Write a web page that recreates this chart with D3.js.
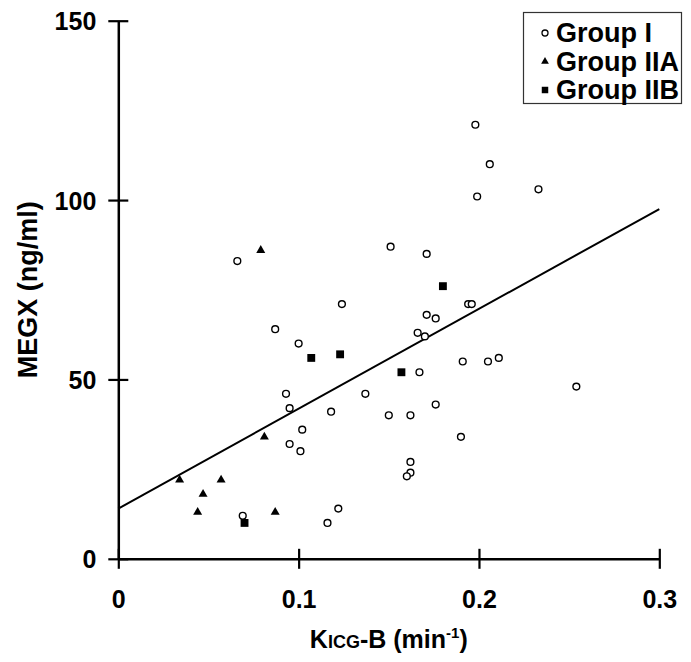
<!DOCTYPE html>
<html>
<head>
<meta charset="utf-8">
<script src="https://cdn.jsdelivr.net/npm/d3@7"></script>
<style>
  html, body { margin: 0; padding: 0; background: #fff; }
  svg { display: block; }
  text { font-family: "Liberation Sans", Arial, sans-serif; font-weight: bold; fill: #000; }
</style>
</head>
<body>
<svg id="chart" width="691" height="662"></svg>
<script>
// MEGX concentration against KICG-B clearance, three patient groups

// Group I (open circles): [KICG-B, MEGX]
const groupI = [
  [0.066, 83], [0.087, 64], [0.100, 60], [0.124, 71], [0.093, 46],
  [0.095, 42], [0.102, 36], [0.095, 32], [0.101, 30], [0.118, 41],
  [0.069, 12], [0.116, 10], [0.122, 14], [0.137, 46], [0.151, 87],
  [0.150, 40], [0.162, 40], [0.162, 27], [0.162, 24], [0.160, 23],
  [0.171, 85], [0.171, 68], [0.176, 67], [0.166, 63], [0.170, 62],
  [0.167, 52], [0.176, 43], [0.190, 34], [0.191, 55], [0.194, 71],
  [0.196, 71], [0.198, 121], [0.199, 101], [0.206, 110], [0.205, 55],
  [0.211, 56], [0.233, 103], [0.254, 48]
];

// Group IIA (filled triangles)
const groupIIA = [
  [0.034, 22], [0.047, 18], [0.044, 13], [0.057, 22],
  [0.079, 86], [0.081, 34], [0.087, 13]
];

// Group IIB (filled squares)
const groupIIB = [
  [0.070, 10], [0.107, 56], [0.123, 57], [0.157, 52], [0.180, 76]
];

// Least-squares line end points
const fitLine = [[0, 14.0], [0.3, 97.5]];

const xTicks = [0, 0.1, 0.2, 0.3];
const yTicks = [0, 50, 100, 150];
const legendLabels = ["Group I", "Group IIA", "Group IIB"];

const svg = d3.select("#chart");

const x = d3.scaleLinear().domain([0, 0.3]).range([118.3, 659.3]);
const y = d3.scaleLinear().domain([0, 150]).range([558.8, 20.7]);

// X axis, ticks crossing the line
const gx = svg.append("g")
  .attr("transform", `translate(0,${y(0)})`)
  .call(d3.axisBottom(x).tickValues(xTicks).tickSize(10).tickSizeOuter(0).tickPadding(0)
    .tickFormat(d => d === 0 ? "0" : d3.format(".1f")(d)));
gx.select(".domain").attr("stroke", "#000").attr("stroke-width", 2.5);
gx.selectAll(".tick line").attr("stroke", "#000").attr("stroke-width", 2.2)
  .attr("y1", -10).attr("y2", 10);
gx.selectAll(".tick text").attr("font-size", 25).attr("y", 49).attr("dy", null);

// Y axis, ticks crossing the line
const gy = svg.append("g")
  .attr("transform", `translate(${x(0)},0)`)
  .call(d3.axisLeft(y).tickValues(yTicks).tickSize(10).tickSizeOuter(0).tickPadding(0));
gy.select(".domain").attr("stroke", "#000").attr("stroke-width", 2.5);
gy.selectAll(".tick line").attr("stroke", "#000").attr("stroke-width", 2.2)
  .attr("x1", -10).attr("x2", 10);
gy.selectAll(".tick text").attr("font-size", 25).attr("x", -22).attr("dy", "0.36em");
svg.selectAll(".tick text")
  .attr("fill", "#000")
  .attr("font-family", "Liberation Sans, Arial, sans-serif")
  .attr("font-weight", "bold");

// Regression line
svg.append("path")
  .datum(fitLine)
  .attr("fill", "none")
  .attr("stroke", "#000")
  .attr("stroke-width", 2)
  .attr("d", d3.line().x(d => x(d[0])).y(d => y(d[1])));

// Markers
svg.append("g").selectAll("circle").data(groupI).join("circle")
  .attr("cx", d => x(d[0])).attr("cy", d => y(d[1])).attr("r", 3.4)
  .attr("fill", "#fff").attr("stroke", "#000").attr("stroke-width", 1.4);

const tri = d3.symbol().type(d3.symbolTriangle).size(35);
svg.append("g").selectAll("path").data(groupIIA).join("path")
  .attr("transform", d => `translate(${x(d[0])},${y(d[1])})`)
  .attr("d", tri).attr("fill", "#000");

const sq = d3.symbol().type(d3.symbolSquare).size(62);
svg.append("g").selectAll("path").data(groupIIB).join("path")
  .attr("transform", d => `translate(${x(d[0])},${y(d[1])})`)
  .attr("d", sq).attr("fill", "#000");

// Axis titles
const xt = svg.append("text")
  .attr("x", (x(0) + x(0.3)) / 2).attr("y", 648)
  .attr("text-anchor", "middle").attr("font-size", 25);
xt.append("tspan").text("K");
xt.append("tspan").attr("font-size", 18).text("ICG");
xt.append("tspan").text("-B (min");
xt.append("tspan").attr("font-size", 15).attr("dy", -10).text("-1");
xt.append("tspan").attr("dy", 10).text(")");

svg.append("text")
  .attr("transform", `translate(37,${(y(0) + y(150)) / 2}) rotate(-90)`)
  .attr("text-anchor", "middle").attr("font-size", 27)
  .text("MEGX (ng/ml)");

// Legend
const lg = svg.append("g");
lg.append("rect").attr("x", 523.5).attr("y", 12.5).attr("width", 158).attr("height", 91)
  .attr("fill", "#fff").attr("stroke", "#333").attr("stroke-width", 1.2);
const rows = [42, 70.5, 99];
const legendMarks = [
  g => g.append("circle").attr("r", 3).attr("fill", "#fff").attr("stroke", "#000").attr("stroke-width", 1.3),
  g => g.append("path").attr("d", d3.symbol().type(d3.symbolTriangle).size(26)).attr("fill", "#000"),
  g => g.append("path").attr("d", d3.symbol().type(d3.symbolSquare).size(42)).attr("fill", "#000")
];
legendLabels.forEach((label, i) => {
  const g = lg.append("g").attr("transform", `translate(545,${rows[i] - 9})`);
  legendMarks[i](g);
  lg.append("text").attr("x", 556).attr("y", rows[i]).attr("font-size", 27).text(label);
});
</script>
</body>
</html>
